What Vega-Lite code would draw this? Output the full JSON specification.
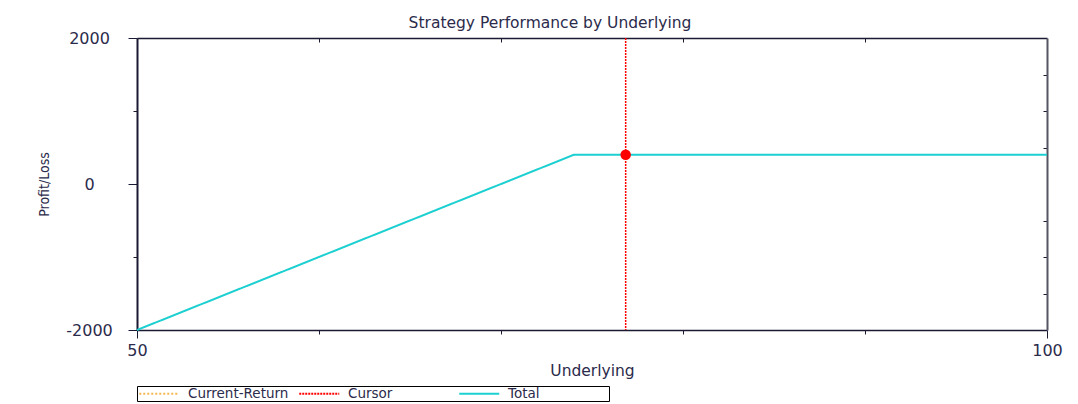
{
  "$schema": "https://vega.github.io/schema/vega-lite/v6.json",
  "width": 910,
  "height": 292,
  "autosize": "none",
  "padding": {"left": 137, "top": 38, "right": 31, "bottom": 74},
  "background": "white",
  "title": {
    "text": "Strategy Performance by Underlying",
    "font": "DejaVu Sans",
    "fontSize": 15.5,
    "fontWeight": "normal",
    "color": "#2b2b4b",
    "anchor": "middle",
    "dx": -42,
    "offset": -1
  },
  "config": {
    "view": {"stroke": null},
    "font": "DejaVu Sans",
    "legend": {
      "orient": "bottom",
      "direction": "horizontal",
      "columns": 3,
      "symbolType": "M-1,0H7",
      "symbolSize": 100,
      "symbolStrokeWidth": 2,
      "labelFont": "DejaVu Sans",
      "labelFontSize": 13.5,
      "labelColor": "#2b2b4b",
      "labelOffset": 37,
      "labelLimit": 300,
      "strokeColor": "#000000",
      "padding": 0.5,
      "columnPadding": 6,
      "rowPadding": 0,
      "gridAlign": "all",
      "offset": 7
    }
  },
  "datasets": {
    "total": [
      {"series": "Total", "underlying": 50, "pl": -2000},
      {"series": "Total", "underlying": 74, "pl": 400},
      {"series": "Total", "underlying": 100, "pl": 400}
    ],
    "cursor": [
      {"series": "Cursor", "underlying": 76.85, "pl": 400}
    ]
  },
  "layer": [
    {
      "layer": [
        {
          "mark": {"type": "rule", "color": "#333344", "strokeWidth": 1},
          "encoding": {"y": {"datum": 0, "type": "quantitative"}}
        },
        {
          "data": {"name": "total"},
          "mark": {"type": "line", "strokeWidth": 2},
          "encoding": {
            "x": {
              "field": "underlying",
              "type": "quantitative",
              "scale": {"domain": [50, 100], "nice": false, "zero": false},
              "axis": {
                "title": "Underlying",
                "values": [50, 60, 70, 80, 90, 100],
                "labelExpr": "datum.value==50||datum.value==100?datum.label:''",
                "tickSize": {"condition": {"test": "datum.value==50||datum.value==100", "value": 8}, "value": 4},
                "labelPadding": 4,
                "labelFlush": false,
                "labelOverlap": false,
                "labelFont": "DejaVu Sans",
                "labelFontSize": 16,
                "labelColor": "#2b2b4b",
                "domainColor": "#1a1a33",
                "domainWidth": 1.5,
                "tickColor": "#1a1a33",
                "grid": false,
                "titleFont": "DejaVu Sans",
                "titleFontSize": 15.5,
                "titleFontWeight": "normal",
                "titleColor": "#2b2b4b",
                "titlePadding": 5
              }
            },
            "y": {
              "field": "pl",
              "type": "quantitative",
              "scale": {"domain": [-2000, 2000], "nice": false, "zero": false},
              "axis": {
                "title": "Profit/Loss",
                "values": [-2000, -1500, -1000, -500, 0, 500, 1000, 1500, 2000],
                "labelExpr": "datum.value==2000?'2000':datum.value==0?'0':datum.value==-2000?'-2000':''",
                "tickSize": {"condition": {"test": "datum.value%2000==0", "value": 9}, "value": 4},
                "labelAlign": "center",
                "labelBaseline": "middle",
                "labelPadding": 39,
                "labelFlush": false,
                "labelOverlap": false,
                "labelFont": "DejaVu Sans",
                "labelFontSize": 16,
                "labelColor": "#2b2b4b",
                "domainColor": "#1a1a33",
                "domainWidth": 2,
                "tickColor": "#1a1a33",
                "grid": false,
                "titleFont": "DejaVu Sans Condensed, Liberation Sans",
                "titleFontSize": 14,
                "titleFontWeight": "normal",
                "titleColor": "#2b2b4b",
                "titlePadding": 14
              }
            },
            "color": {
              "field": "series",
              "type": "nominal",
              "scale": {"domain": ["Current-Return", "Cursor", "Total"], "range": ["#f5b650", "#ff0000", "#1ccfd0"]},
              "legend": {"title": null, "labelExpr": "datum.label=='Total' ? 'Total\u00a0\u00a0\u00a0\u00a0\u00a0\u00a0\u00a0\u00a0\u00a0\u00a0\u00a0\u00a0\u00a0\u00a0\u00a0\u00a0\u200b' : datum.label"}
            },
            "strokeDash": {
              "field": "series",
              "type": "nominal",
              "scale": {"domain": ["Current-Return", "Cursor", "Total"], "range": [[2, 2], [2, 1], [1, 0]]},
              "legend": {"title": null, "labelExpr": "datum.label=='Total' ? 'Total\u00a0\u00a0\u00a0\u00a0\u00a0\u00a0\u00a0\u00a0\u00a0\u00a0\u00a0\u00a0\u00a0\u00a0\u00a0\u00a0\u200b' : datum.label"}
            }
          }
        },
        {
          "data": {"name": "cursor"},
          "mark": {"type": "rule", "strokeWidth": 1.5},
          "encoding": {
            "x": {"field": "underlying", "type": "quantitative"},
            "color": {"field": "series", "type": "nominal", "legend": {"title": null}},
            "strokeDash": {"field": "series", "type": "nominal", "legend": {"title": null}}
          }
        },
        {
          "data": {"name": "cursor"},
          "mark": {"type": "point", "filled": true, "shape": "circle", "size": 110, "color": "#ff0000", "opacity": 1},
          "encoding": {
            "x": {"field": "underlying", "type": "quantitative"},
            "y": {"field": "pl", "type": "quantitative"}
          }
        }
      ]
    },
    {
      "data": {"name": "total"},
      "mark": {"type": "line", "opacity": 0},
      "encoding": {
        "x": {
          "field": "underlying",
          "type": "quantitative",
          "scale": {"domain": [50, 100], "nice": false, "zero": false},
          "axis": {
            "orient": "top",
            "values": [60, 70, 80, 90],
            "labels": false,
            "title": null,
            "tickSize": -4,
            "minExtent": 0,
            "maxExtent": 0,
            "domainColor": "#1a1a33",
            "domainWidth": 1.5,
            "tickColor": "#1a1a33",
            "grid": false
          }
        },
        "y": {
          "field": "pl",
          "type": "quantitative",
          "scale": {"domain": [-2000, 2000], "nice": false, "zero": false},
          "axis": {
            "orient": "right",
            "values": [-1500, -1000, -500, 500, 1000, 1500],
            "labels": false,
            "title": null,
            "tickSize": -4,
            "minExtent": 0,
            "maxExtent": 0,
            "domainColor": "#555566",
            "domainWidth": 2,
            "tickColor": "#1a1a33",
            "grid": false
          }
        }
      }
    }
  ],
  "resolve": {"scale": {"x": "independent", "y": "independent"}}
}
